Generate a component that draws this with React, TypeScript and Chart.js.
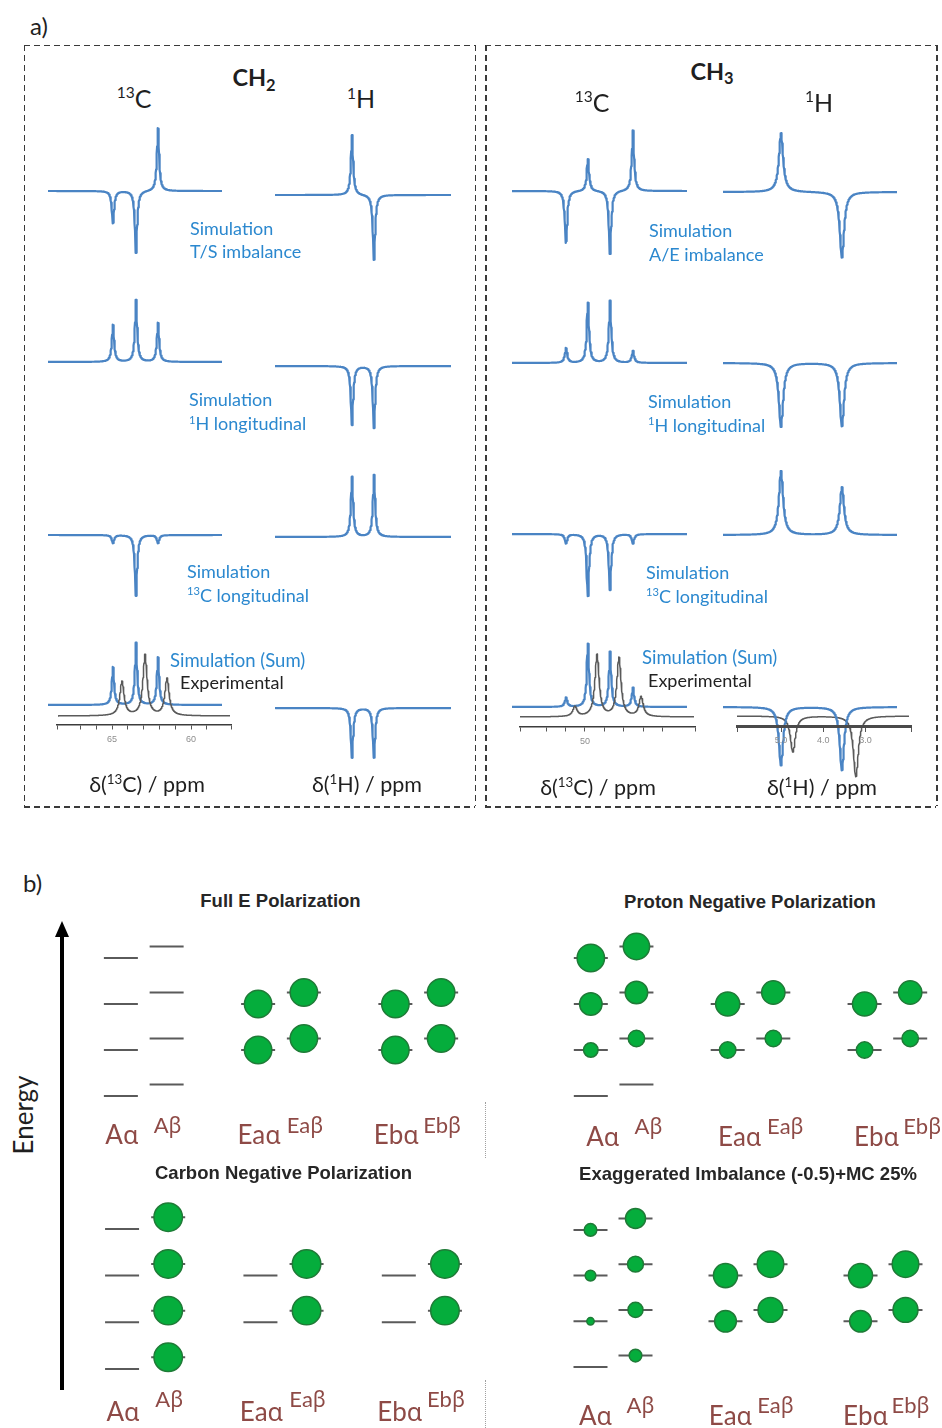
import React, { useEffect, useRef } from 'react';
import { Chart, registerables } from 'chart.js';

Chart.register(...registerables);
Chart.defaults.font.family = '"Liberation Sans", Arial, sans-serif';

// ================= a) peak lists =================
// (chemical shift in ppm, relative intensity; 1 = tallest simulated line)
// CH2 – 13C
const ch2CarbonPpm = [64.94, 63.48, 62.09];
const ch2CarbonTS = [-0.52, -1.0, 1.02];
const ch2CarbonHLong = [0.6, 1.0, 0.63];
const ch2CarbonCLong = [-0.13, -0.98, -0.13];
const ch2CarbonSum = [0.61, 1.0, 0.77];
const ch2CarbonExpPpm = [64.37, 62.91, 61.52];
const ch2CarbonExp = [0.55, 0.98, 0.6];
// CH2 – 1H
const ch2ProtonPpm = [4.35, 3.83];
const ch2ProtonTS = [0.97, -1.05];
const ch2ProtonHLong = [-0.95, -1.0];
const ch2ProtonCLong = [0.97, 1.0];
const ch2ProtonSum = [-0.8, -0.8];
// CH3 – 13C
const ch3CarbonPpm = [50.98, 49.85, 48.71, 47.53];
const ch3CarbonAE = [-0.84, 0.52, -1.02, 0.98];
const ch3CarbonHLong = [0.24, 0.97, 1.0, 0.19];
const ch3CarbonCLong = [-0.15, -1.0, -0.9, -0.15];
const ch3CarbonSum = [0.15, 1.02, 0.89, 0.31];
const ch3CarbonExpPpm = [50.52, 49.38, 48.25, 47.11];
const ch3CarbonExp = [0.16, 1.0, 0.95, 0.32];
// CH3 – 1H
const ch3ProtonPpm = [5.0, 3.56];
const ch3ProtonAE = [0.95, -1.06];
const ch3ProtonHLong = [-1.03, -1.02];
const ch3ProtonCLong = [1.03, 0.77];
const ch3ProtonSum = [-0.94, -1.02];
const ch3ProtonExpPpm = [4.72, 3.23];
const ch3ProtonExp = [-0.58, -0.98];

// axis tick labels
const ch2CarbonAxisLabels = [65, 60];
const ch3CarbonAxisLabels = [50, 45];
const ch3ProtonAxisLabels = [5.0, 4.0, 3.0, 2.0];

// ================= b) energy levels and populations =================
const stateNames = ['Aα', 'Aβ', 'Eaα', 'Eaβ', 'Ebα', 'Ebβ'];
const columnSlots = ['Aα', 'Aβ', ' ', 'Eaα', 'Eaβ', '  ', 'Ebα', 'Ebβ'];
const stateEnergies = [
  [0, 1, 2, 3],
  [0.25, 1.25, 2.25, 3.25],
  [1, 2],
  [1.25, 2.25],
  [1, 2],
  [1.25, 2.25],
];
const popFullE = [[0, 0, 0, 0], [0, 0, 0, 0], [1, 1], [1, 1], [1, 1], [1, 1]];
const popProtonNeg = [[0, 0.53, 0.82, 1.0], [0, 0.6, 0.82, 0.96], [0.6, 0.88], [0.6, 0.85], [0.6, 0.88], [0.6, 0.85]];
const popCarbonNeg = [[0, 0, 0, 0], [1.04, 1.04, 1.04, 1.04], [0, 0], [1.04, 1.04], [0, 0], [1.04, 1.04]];
const popExaggerated = [[0, 0.27, 0.39, 0.46], [0.46, 0.55, 0.58, 0.73], [0.79, 0.88], [0.91, 0.97], [0.79, 0.88], [0.91, 0.97]];

// ================= styles / layout =================
const BLUE_LINE = '#4a84c4';
const BLUE_TEXT = '#2b88cf';
const GRAY_LINE = '#5a5a5a';
const LABEL_COLOR = '#8e4a46';
const UNIT = 62; // px per unit intensity
const TRACE_H = 150;
const LATO = 'Lato, "Noto Sans", "DejaVu Sans", sans-serif';
const GREEK = '"Noto Sans", "DejaVu Sans", sans-serif';
const ARIAL = '"Liberation Sans", Arial, sans-serif';

type Frame = { refPpm: number; refX: number; k: number };
const FR_CH2_C: Frame = { refPpm: 65, refX: 112, k: 15.8 };
const FR_CH2_H: Frame = { refPpm: 4.35, refX: 352, k: 42.3 };
const FR_CH3_C: Frame = { refPpm: 50, refX: 585, k: 19.4 };
const FR_CH3_H: Frame = { refPpm: 5.0, refX: 781, k: 42.3 };

type TraceSpec = {
  frame: Frame; from: number; to: number; baseY: number;
  ppm: number[]; amp: number[]; gamma: number; color: string; lw: number;
};
type AxisSpec = { frame: Frame; from: number; to: number; y: number; labels: number[]; decimals: number; color: string; width: number };

const B = { color: BLUE_LINE, lw: 2.2 };
const G = { color: GRAY_LINE, lw: 1.5 };

const traces: TraceSpec[] = [
  // CH2 13C
  { frame: FR_CH2_C, from: 69.05, to: 58.04, baseY: 191, ppm: ch2CarbonPpm, amp: ch2CarbonTS, gamma: 0.085, ...B },
  { frame: FR_CH2_C, from: 69.05, to: 58.04, baseY: 362, ppm: ch2CarbonPpm, amp: ch2CarbonHLong, gamma: 0.085, ...B },
  { frame: FR_CH2_C, from: 69.05, to: 58.04, baseY: 535, ppm: ch2CarbonPpm, amp: ch2CarbonCLong, gamma: 0.085, ...B },
  { frame: FR_CH2_C, from: 69.05, to: 58.04, baseY: 705, ppm: ch2CarbonPpm, amp: ch2CarbonSum, gamma: 0.085, ...B },
  { frame: FR_CH2_C, from: 68.42, to: 57.53, baseY: 716, ppm: ch2CarbonExpPpm, amp: ch2CarbonExp, gamma: 0.16, ...G },
  // CH2 1H
  { frame: FR_CH2_H, from: 6.17, to: 2.01, baseY: 195, ppm: ch2ProtonPpm, amp: ch2ProtonTS, gamma: 0.032, ...B },
  { frame: FR_CH2_H, from: 6.17, to: 2.01, baseY: 366, ppm: ch2ProtonPpm, amp: ch2ProtonHLong, gamma: 0.032, ...B },
  { frame: FR_CH2_H, from: 6.17, to: 2.01, baseY: 537, ppm: ch2ProtonPpm, amp: ch2ProtonCLong, gamma: 0.032, ...B },
  { frame: FR_CH2_H, from: 6.17, to: 2.01, baseY: 708, ppm: ch2ProtonPpm, amp: ch2ProtonSum, gamma: 0.032, ...B },
  // CH3 13C
  { frame: FR_CH3_C, from: 53.76, to: 44.74, baseY: 191, ppm: ch3CarbonPpm, amp: ch3CarbonAE, gamma: 0.072, ...B },
  { frame: FR_CH3_C, from: 53.76, to: 44.74, baseY: 363, ppm: ch3CarbonPpm, amp: ch3CarbonHLong, gamma: 0.072, ...B },
  { frame: FR_CH3_C, from: 53.76, to: 44.74, baseY: 534, ppm: ch3CarbonPpm, amp: ch3CarbonCLong, gamma: 0.072, ...B },
  { frame: FR_CH3_C, from: 53.76, to: 44.74, baseY: 707, ppm: ch3CarbonPpm, amp: ch3CarbonSum, gamma: 0.072, ...B },
  { frame: FR_CH3_C, from: 53.35, to: 44.38, baseY: 717, ppm: ch3CarbonExpPpm, amp: ch3CarbonExp, gamma: 0.13, ...G },
  // CH3 1H
  { frame: FR_CH3_H, from: 6.37, to: 2.26, baseY: 192, ppm: ch3ProtonPpm, amp: ch3ProtonAE, gamma: 0.06, ...B },
  { frame: FR_CH3_H, from: 6.37, to: 2.26, baseY: 363, ppm: ch3ProtonPpm, amp: ch3ProtonHLong, gamma: 0.06, ...B },
  { frame: FR_CH3_H, from: 6.37, to: 2.26, baseY: 535, ppm: ch3ProtonPpm, amp: ch3ProtonCLong, gamma: 0.06, ...B },
  { frame: FR_CH3_H, from: 6.04, to: 1.97, baseY: 716, ppm: ch3ProtonExpPpm, amp: ch3ProtonExp, gamma: 0.07, ...G },
  { frame: FR_CH3_H, from: 6.37, to: 2.26, baseY: 707, ppm: ch3ProtonPpm, amp: ch3ProtonSum, gamma: 0.06, ...B },
];

const axes: AxisSpec[] = [
  { frame: FR_CH2_C, from: 68.48, to: 57.47, y: 725, labels: ch2CarbonAxisLabels, decimals: 0, color: '#3c3c3c', width: 1.5 },
  { frame: FR_CH3_C, from: 53.35, to: 44.33, y: 727, labels: ch3CarbonAxisLabels, decimals: 0, color: '#3c3c3c', width: 1.5 },
  { frame: FR_CH3_H, from: 6.04, to: 1.93, y: 726, labels: ch3ProtonAxisLabels, decimals: 1, color: '#4a4a4a', width: 3 },
];

type PanelSpec = {
  title: string; pop: number[][]; col0: number; step: number; e0: number; k: number;
  titleX: number; titleY: number; dx: number; la: number; lb: number;
};
const panels: PanelSpec[] = [
  { title: 'Full E Polarization', pop: popFullE, col0: 121, step: 45.7, e0: 1096, k: 46, titleX: 280.5, titleY: 901.5, dx: 1, la: 39, lb: 29 },
  { title: 'Proton Negative Polarization', pop: popProtonNeg, col0: 591, step: 45.6, e0: 1096, k: 46, titleX: 750, titleY: 902, dx: 12, la: 41, lb: 30.5 },
  { title: 'Carbon Negative Polarization', pop: popCarbonNeg, col0: 122.5, step: 46.1, e0: 1369, k: 46.7, titleX: 283.5, titleY: 1173, dx: 1, la: 43, lb: 30 },
  { title: 'Exaggerated Imbalance (-0.5)+MC 25%', pop: popExaggerated, col0: 590, step: 45, e0: 1367, k: 45.7, titleX: 748, titleY: 1174, dx: 5, la: 49, lb: 38 },
];

// ================= helpers =================
const ppmToX = (f: Frame, ppm: number) => f.refX + (f.refPpm - ppm) * f.k;
const xToPpm = (f: Frame, x: number) => f.refPpm - (x - f.refX) / f.k;

// Lorentzian line shape rendered from the peak list
function lineShape(ppm: number[], amp: number[], gamma: number, hi: number, lo: number) {
  const n = 700;
  const xs: number[] = [];
  for (let i = 0; i <= n; i++) xs.push(hi - ((hi - lo) * i) / n);
  ppm.forEach((p) => { if (p < hi && p > lo) xs.push(p); });
  xs.sort((a, b) => b - a);
  return xs.map((x) => ({
    x,
    y: ppm.reduce((s, p, j) => s + (amp[j] * gamma * gamma) / ((x - p) * (x - p) + gamma * gamma), 0),
  }));
}

function Plot({ left, top, width, height, build }: { left: number; top: number; width: number; height: number; build: () => any }) {
  const ref = useRef<HTMLCanvasElement | null>(null);
  useEffect(() => {
    if (!ref.current) return;
    const chart = new Chart(ref.current, build());
    return () => chart.destroy();
  }, []);
  return (
    <canvas
      ref={ref}
      width={width}
      height={height}
      style={{ position: 'absolute', left, top, width, height, display: 'block' }}
    />
  );
}

const baseOpts = {
  animation: false,
  responsive: false,
  events: [],
  plugins: { legend: { display: false }, tooltip: { enabled: false } },
};

function Trace({ s }: { s: TraceSpec }) {
  const left = Math.round(ppmToX(s.frame, s.from));
  const right = Math.round(ppmToX(s.frame, s.to));
  const width = right - left;
  const top = Math.round(s.baseY - TRACE_H / 2);
  const xmax = xToPpm(s.frame, left);
  const xmin = xToPpm(s.frame, right);
  const half = (s.baseY - top) / UNIT;
  const hh = TRACE_H / UNIT;
  const build = () => ({
    type: 'line',
    data: {
      datasets: [{
        data: lineShape(s.ppm, s.amp, s.gamma, xmax, xmin),
        borderColor: s.color, borderWidth: s.lw, pointRadius: 0, tension: 0, fill: false, clip: false,
        borderJoinStyle: 'round', borderCapStyle: 'round',
      }],
    },
    options: {
      ...baseOpts,
      layout: { padding: 0, autoPadding: false },
      scales: {
        x: { type: 'linear', reverse: true, min: xmin, max: xmax, display: false },
        y: { type: 'linear', min: half - hh, max: half, display: false },
      },
    },
  });
  return <Plot left={left} top={top} width={width} height={TRACE_H} build={build} />;
}

function Axis({ a }: { a: AxisSpec }) {
  const pad = 14;
  const l = Math.round(ppmToX(a.frame, a.from));
  const r = Math.round(ppmToX(a.frame, a.to));
  const xmax = xToPpm(a.frame, l);
  const xmin = xToPpm(a.frame, r);
  const H = 40;
  const build = () => ({
    type: 'line',
    data: { datasets: [] },
    options: {
      ...baseOpts,
      layout: { padding: { left: pad, right: pad, top: 0, bottom: 0 }, autoPadding: false },
      scales: {
        x: {
          type: 'linear', reverse: true, min: xmin, max: xmax, position: { y: 0 },
          border: { display: true, color: a.color, width: a.width },
          grid: { display: true, drawOnChartArea: false, drawTicks: true, tickLength: 4, color: '#555', lineWidth: 1 },
          ticks: {
            autoSkip: false, stepSize: 1, maxRotation: 0, minRotation: 0, padding: 5,
            color: '#8d8d8d', font: { size: 9, family: ARIAL },
            callback: (v: number) => (a.labels.some((lb) => Math.abs(lb - v) < 1e-6) ? Number(v).toFixed(a.decimals) : ''),
          },
        },
        y: { type: 'linear', min: -1, max: 1, display: false },
      },
    },
  });
  return <Plot left={l - pad} top={a.y - H / 2} width={r - l + 2 * pad} height={H} build={build} />;
}

const stateLabelPlugin = {
  id: 'stateLabels',
  afterDatasetsDraw(chart: any, _args: any, opts: any) {
    const { ctx } = chart;
    const xs = chart.scales.x;
    const ys = chart.scales.y;
    const y0 = ys.getPixelForValue(0);
    stateNames.forEach((name) => {
      const beta = name.endsWith('β');
      const size = beta ? 22 : 26;
      const latin = name.slice(0, -1);
      const greek = name.slice(-1);
      ctx.save();
      ctx.fillStyle = LABEL_COLOR;
      ctx.textAlign = 'left';
      ctx.textBaseline = 'alphabetic';
      const latinFont = `${size}px ${LATO}`;
      const greekFont = `${size * 0.96}px ${GREEK}`;
      ctx.font = latinFont;
      const w1 = ctx.measureText(latin).width;
      ctx.font = greekFont;
      const w2 = ctx.measureText(greek).width;
      const cx = xs.getPixelForValue(columnSlots.indexOf(name)) + opts.dx;
      const base = y0 + (beta ? opts.lb : opts.la) + size * 0.358;
      const x0 = cx - (w1 + w2) / 2;
      ctx.font = latinFont;
      ctx.fillText(latin, x0, base);
      ctx.font = greekFont;
      ctx.fillText(greek, x0 + w1, base);
      ctx.restore();
    });
  },
};

function LevelPanel({ p }: { p: PanelSpec }) {
  const padL = 10;
  const padR = 14;
  const areaLeft = Math.round(p.col0 - p.step / 2);
  const areaW = Math.round(p.step * 8);
  const top = Math.round(p.e0 - 4 * p.k);
  const height = Math.round(5.7 * p.k);
  const ymax = (p.e0 - top) / p.k;
  const ymin = ymax - height / p.k;
  const build = () => {
    const levelPts: any[] = [];
    const popPts: any[] = [];
    stateNames.forEach((name, c) =>
      stateEnergies[c].forEach((e, j) => {
        levelPts.push({ x: name, y: e });
        popPts.push({ x: name, y: e, p: p.pop[c][j] });
      })
    );
    return {
      type: 'scatter',
      data: {
        datasets: [
          {
            data: popPts, order: 1, showLine: false, pointStyle: 'circle',
            pointRadius: (ctx: any) => (ctx.raw ? 13.7 * ctx.raw.p : 0),
            pointBackgroundColor: '#05ad3c', pointBorderColor: '#1f7b37', pointBorderWidth: 1.5,
          },
          {
            data: levelPts, order: 2, showLine: false, pointStyle: 'line',
            pointRadius: 17, pointBorderColor: '#5a5a5a', pointBorderWidth: 2,
          },
        ],
      },
      options: {
        ...baseOpts,
        layout: { padding: { left: padL, right: padR, top: 0, bottom: 0 }, autoPadding: false },
        plugins: { ...baseOpts.plugins, stateLabels: { dx: p.dx, la: p.la, lb: p.lb } },
        scales: {
          x: { type: 'category', labels: columnSlots, offset: true, display: false },
          y: { type: 'linear', min: ymin, max: ymax, display: false },
        },
      },
      plugins: [stateLabelPlugin],
    };
  };
  return <Plot left={areaLeft - padL} top={top} width={areaW + padL + padR} height={height} build={build} />;
}

function Txt({ x, y, size, children, align = 'left', color = '#1f1f1f', bold = false, family = 'lato' }:
  { x: number; y: number; size: number; children: any; align?: string; color?: string; bold?: boolean; family?: string }) {
  const f = family === 'lato' ? 0.529 : 0.488;
  return (
    <div
      style={{
        position: 'absolute', left: x, top: y - f * size, fontSize: size, lineHeight: `${size}px`,
        fontFamily: family === 'lato' ? LATO : ARIAL, fontWeight: bold ? 700 : 400, color,
        whiteSpace: 'nowrap', transform: align === 'center' ? 'translateX(-50%)' : undefined,
      }}
    >
      {children}
    </div>
  );
}

const Sup = ({ children }: { children: any }) => (
  <span style={{ fontSize: '0.62em', lineHeight: 1, position: 'relative', top: '-0.6em' }}>{children}</span>
);
const Sub = ({ children }: { children: any }) => (
  <span style={{ fontSize: '0.7em', lineHeight: 1, position: 'relative', top: '0.3em' }}>{children}</span>
);

function DashedBox({ x, y, w, h }: { x: number; y: number; w: number; h: number }) {
  const c = '#3a3a3a';
  const t = 1.5;
  const hz = `repeating-linear-gradient(to right, ${c} 0px, ${c} 6px, transparent 6px, transparent 10px)`;
  const vt = `repeating-linear-gradient(to bottom, ${c} 0px, ${c} 6px, transparent 6px, transparent 10px)`;
  const base: any = { position: 'absolute' };
  return (
    <>
      <div style={{ ...base, left: x, top: y, width: w, height: t, background: hz }} />
      <div style={{ ...base, left: x, top: y + h, width: w, height: t, background: hz }} />
      <div style={{ ...base, left: x, top: y, width: t, height: h, background: vt }} />
      <div style={{ ...base, left: x + w, top: y, width: t, height: h, background: vt }} />
    </>
  );
}

export default function App() {
  return (
    <div
      style={{
        position: 'absolute', left: 0, top: 0, width: 942, height: 1428, overflow: 'hidden',
        background: '#ffffff', fontFamily: LATO,
      }}
    >
      {/* ---------- a) ---------- */}
      <DashedBox x={23.5} y={44.5} w={451} h={761.5} />
      <DashedBox x={485} y={44.5} w={451} h={761.5} />

      {traces.map((s, i) => <Trace key={'t' + i} s={s} />)}
      {axes.map((a, i) => <Axis key={'a' + i} a={a} />)}

      <Txt x={30} y={26.5} size={24}>a)</Txt>
      <Txt x={254} y={78.5} size={23.5} bold align="center">CH<Sub>2</Sub></Txt>
      <Txt x={134} y={99} size={25} align="center"><Sup>13</Sup>C</Txt>
      <Txt x={361} y={99.5} size={25} align="center"><Sup>1</Sup>H</Txt>
      <Txt x={712} y={72} size={23.5} bold align="center">CH<Sub>3</Sub></Txt>
      <Txt x={592} y={103} size={25} align="center"><Sup>13</Sup>C</Txt>
      <Txt x={819} y={103} size={25} align="center"><Sup>1</Sup>H</Txt>

      <Txt x={190} y={228.5} size={18} color={BLUE_TEXT}>Simulation</Txt>
      <Txt x={190} y={251.5} size={18} color={BLUE_TEXT}>T/S imbalance</Txt>
      <Txt x={189} y={400} size={18} color={BLUE_TEXT}>Simulation</Txt>
      <Txt x={189} y={424} size={18} color={BLUE_TEXT}><Sup>1</Sup>H longitudinal</Txt>
      <Txt x={187} y={571.5} size={18} color={BLUE_TEXT}>Simulation</Txt>
      <Txt x={187} y={595.5} size={18} color={BLUE_TEXT}><Sup>13</Sup>C longitudinal</Txt>
      <Txt x={170} y={661} size={18.5} color={BLUE_TEXT}>Simulation (Sum)</Txt>
      <Txt x={180} y={683} size={18} color="#222">Experimental</Txt>

      <Txt x={649} y={230.5} size={18} color={BLUE_TEXT}>Simulation</Txt>
      <Txt x={649} y={254.5} size={18} color={BLUE_TEXT}>A/E imbalance</Txt>
      <Txt x={648} y={401.5} size={18} color={BLUE_TEXT}>Simulation</Txt>
      <Txt x={648} y={425.5} size={18} color={BLUE_TEXT}><Sup>1</Sup>H longitudinal</Txt>
      <Txt x={646} y={572.5} size={18} color={BLUE_TEXT}>Simulation</Txt>
      <Txt x={646} y={596.5} size={18} color={BLUE_TEXT}><Sup>13</Sup>C longitudinal</Txt>
      <Txt x={642} y={658} size={18.5} color={BLUE_TEXT}>Simulation (Sum)</Txt>
      <Txt x={648} y={680.5} size={18} color="#222">Experimental</Txt>

      <Txt x={147} y={785.5} size={21.5} align="center">δ(<Sup>13</Sup>C) / ppm</Txt>
      <Txt x={367} y={785.5} size={21.5} align="center">δ(<Sup>1</Sup>H) / ppm</Txt>
      <Txt x={598} y={788} size={21.5} align="center">δ(<Sup>13</Sup>C) / ppm</Txt>
      <Txt x={822} y={788} size={21.5} align="center">δ(<Sup>1</Sup>H) / ppm</Txt>

      {/* ---------- b) ---------- */}
      {panels.map((p, i) => <LevelPanel key={'p' + i} p={p} />)}

      <Txt x={23} y={883.4} size={24}>b)</Txt>
      {panels.map((p, i) => (
        <Txt key={'tt' + i} x={p.titleX} y={p.titleY} size={18.5} bold family="arial" align="center" color="#262626">
          {p.title}
        </Txt>
      ))}

      <div
        style={{
          position: 'absolute', left: 23, top: 1115, fontSize: 26, lineHeight: '26px', fontFamily: LATO,
          color: '#1f1f1f', whiteSpace: 'nowrap', transform: 'translate(-50%, -50%) rotate(-90deg)',
        }}
      >
        Energy
      </div>
      <div style={{ position: 'absolute', left: 60, top: 934, width: 4, height: 456, background: '#000' }} />
      <div
        style={{
          position: 'absolute', left: 54.5, top: 921, width: 0, height: 0,
          borderLeft: '7.5px solid transparent', borderRight: '7.5px solid transparent', borderBottom: '16px solid #000',
        }}
      />
      <div style={{ position: 'absolute', left: 485, top: 1102, height: 56, borderLeft: '1px dotted #a0a0a0' }} />
      <div style={{ position: 'absolute', left: 485, top: 1380, height: 48, borderLeft: '1px dotted #a0a0a0' }} />
    </div>
  );
}
